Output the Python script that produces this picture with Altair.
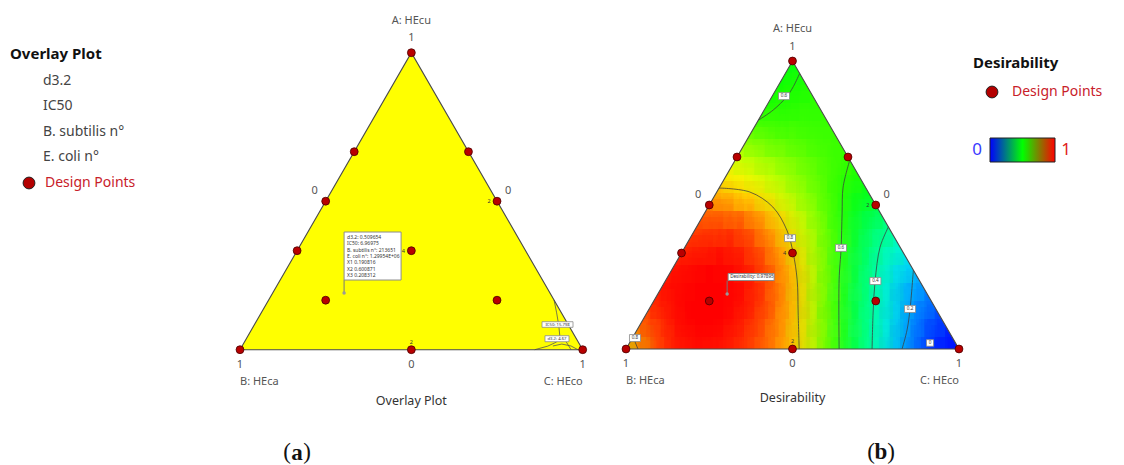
import altair as alt
import pandas as pd

FONT = "Noto Sans"
H = 465

# ---------------- data ----------------
# Mixture design runs: fractions of A (HEcu) and C (HEco); B (HEca) = 1 - A - C
design_A = [1, 2/3, 1/2, 1/3, 2/3, 1/2, 1/3, 1/6, 1/6, 0, 0, 0]
design_C = [0, 0, 0, 0, 1/3, 1/2, 1/3, 1/6, 2/3, 0, 1/2, 1]

# replicated runs (count shown next to the run)
rep_side_count = ["2", "4"]
rep_side_A = [1/2, 1/3]
rep_side_C = [1/2, 1/3]
rep_base_count = ["2"]
rep_base_A = [0]
rep_base_C = [1/2]

# flagged optimum
flag_X1, flag_X2, flag_X3 = 0.190816, 0.600871, 0.208312
overlay_names = ["d3.2", "IC50", "B. subtilis n°", "E. coli n°"]
overlay_values = ["0.509654", "6.96975", "213651", "1.29954E+06"]
flag_desirability = "0.97895"

# overlay plot: region outside the criteria near the C vertex (height a, left boundary x)
grey_a = [0.0, 0.012, 0.026, 0.049, 0.083, 0.124, 0.167]
grey_x_left = [0.860, 0.898, 0.924, 0.933, 0.930, 0.924, 0.9165]
# criteria lines inside that region
d32_x = [0.913, 0.939, 0.966, 0.986]
d32_a = [0.0125, 0.019, 0.0125, 0.0]
ic50_x = [0.9396, 0.954, 0.966]
ic50_a = [0.046, 0.0226, 0.0]
ov_label_text = ["IC50: 15.798", "d3.2: 4.67"]
ov_label_x = [0.9265, 0.925]
ov_label_a = [0.0848, 0.037]

# desirability on a triangular lattice (16 divisions), rows from B-C edge up to A
N = 16
desir_rows = [
    [0.70, 0.86, 0.92, 0.94, 0.94, 0.93, 0.91, 0.87, 0.82, 0.73, 0.63, 0.50, 0.38, 0.24, 0.13, 0.05, 0.01],
    [0.83, 0.92, 0.95, 0.96, 0.96, 0.94, 0.90, 0.85, 0.78, 0.68, 0.57, 0.45, 0.32, 0.20, 0.10, 0.04],
    [0.88, 0.94, 0.97, 0.97, 0.96, 0.93, 0.89, 0.82, 0.73, 0.63, 0.51, 0.38, 0.27, 0.16, 0.08],
    [0.93, 0.96, 0.975, 0.98, 0.97, 0.93, 0.87, 0.78, 0.68, 0.57, 0.45, 0.34, 0.22, 0.14],
    [0.94, 0.97, 0.975, 0.97, 0.95, 0.90, 0.82, 0.73, 0.63, 0.51, 0.40, 0.28, 0.18],
    [0.93, 0.96, 0.96, 0.95, 0.92, 0.86, 0.77, 0.68, 0.58, 0.47, 0.36, 0.26],
    [0.91, 0.94, 0.94, 0.92, 0.87, 0.79, 0.71, 0.63, 0.53, 0.43, 0.34],
    [0.89, 0.92, 0.91, 0.87, 0.80, 0.73, 0.67, 0.59, 0.50, 0.41],
    [0.86, 0.87, 0.85, 0.80, 0.74, 0.68, 0.62, 0.55, 0.48],
    [0.80, 0.79, 0.76, 0.72, 0.68, 0.64, 0.60, 0.55],
    [0.76, 0.74, 0.71, 0.68, 0.65, 0.62, 0.59],
    [0.71, 0.69, 0.67, 0.65, 0.63, 0.61],
    [0.65, 0.64, 0.63, 0.62, 0.61],
    [0.60, 0.61, 0.61, 0.61],
    [0.58, 0.60, 0.605],
    [0.565, 0.60],
    [0.55],
]

# desirability contour lines (x along B-C, a = height toward A)
contours = {
    "c08a": ([0.2795, 0.372, 0.441, 0.483, 0.502, 0.514, 0.517, 0.520],
             [0.559, 0.545, 0.493, 0.413, 0.333, 0.240, 0.125, 0.0]),
    "c08b": ([0.021, 0.036], [0.042, 0.0]),
    "c06a": ([0.672, 0.652, 0.649, 0.646, 0.640, 0.640],
             [0.656, 0.5625, 0.472, 0.351, 0.24, 0.0]),
    "c06b": ([0.5215, 0.5024, 0.4826, 0.4423, 0.397],
             [0.957, 0.911, 0.876, 0.83, 0.794]),
    "c04": ([0.788, 0.763, 0.748, 0.742, 0.739], [0.424, 0.354, 0.236, 0.125, 0.0]),
    "c02": ([0.863, 0.853, 0.844, 0.829], [0.274, 0.139, 0.066, 0.0]),
}
des_label_text = ["0.8", "0.6", "0.4", "0.2", "0.8", "0.6"]
des_label_x = [0.4925, 0.6456, 0.749, 0.853, 0.027, 0.4745]
des_label_a = [0.385, 0.351, 0.236, 0.139, 0.038, 0.878]
zero_label_x = [0.913]
zero_label_a = [0.021]

# colour ramp of the desirability map
ramp_stops = [0.02, 0.30, 0.57, 0.76, 0.96]
ramp_colors = ["#0000ff", "#00ffff", "#00ff00", "#ffff00", "#ff0000"]

# ---------------- helpers ----------------
PA = {"xdom": [-40 / 342.7, 380 / 342.7], "ydom": [(349.7 - H) / 297.0, 349.7 / 297.0], "w": 420}
PB = {"xdom": [-6 / 333.0, 339 / 333.0], "ydom": [(349.0 - H) / 288.0, 349.0 / 288.0], "w": 345}


def X(p, f="x"):
    return alt.X(f"{f}:Q", scale=alt.Scale(domain=p["xdom"], nice=False, zero=False), axis=None)


def Y(p, f="y"):
    return alt.Y(f"{f}:Q", scale=alt.Scale(domain=p["ydom"], nice=False, zero=False), axis=None)


def tern_x(A, C):
    return C + A / 2.0


def txt(p, x, y, s, dx=0, dy=0, size=11, color="#555555", align="left", weight="normal",
        font=FONT):
    return alt.Chart(pd.DataFrame({"x": [x], "y": [y], "t": [s]})).mark_text(
        dx=dx, dy=dy, fontSize=size, color=color, align=align, baseline="middle",
        font=font, fontWeight=weight
    ).encode(X(p), Y(p), text="t:N")


def ctxt(p, x, y, s, **kw):
    kw.setdefault("align", "center")
    return txt(p, x, y, s, **kw)


def rect_path(w, h):
    return f"M{-w/2},{-h/2}L{w/2},{-h/2}L{w/2},{h/2}L{-w/2},{h/2}Z"


def label_box(p, xs, ys, texts, w, h, size=4.6):
    df = pd.DataFrame({"x": xs, "y": ys, "t": texts})
    box = alt.Chart(df).mark_point(
        shape=rect_path(w, h), size=4, filled=True, fill="white", stroke="#8a8a8a",
        strokeWidth=0.8, opacity=1, fillOpacity=1, strokeOpacity=1
    ).encode(X(p), Y(p))
    t = alt.Chart(df).mark_text(fontSize=size, font=FONT, color="#333333", align="center",
                                baseline="middle").encode(X(p), Y(p), text="t:N")
    return [box, t]


frame_df = pd.DataFrame({"x": [0, 0.5, 1, 0], "y": [0, 1, 0, 0], "o": [0, 1, 2, 3]})
design_df = pd.DataFrame({"x": [tern_x(a, c) for a, c in zip(design_A, design_C)], "y": design_A})


def frame(p):
    return alt.Chart(frame_df).mark_line(color="#4a4a4a", strokeWidth=1.1).encode(
        X(p), Y(p), order="o:Q")


def design_points(p):
    pts = alt.Chart(design_df).mark_circle(
        size=62, color="#b80000", opacity=1, stroke="#4a0000", strokeWidth=0.8
    ).encode(X(p), Y(p))
    side = alt.Chart(pd.DataFrame({
        "x": [tern_x(a, c) for a, c in zip(rep_side_A, rep_side_C)], "y": rep_side_A,
        "t": rep_side_count})).mark_text(dx=-8, fontSize=5.5, font=FONT, color="#333").encode(
        X(p), Y(p), text="t:N")
    base = alt.Chart(pd.DataFrame({
        "x": [tern_x(a, c) for a, c in zip(rep_base_A, rep_base_C)], "y": rep_base_A,
        "t": rep_base_count})).mark_text(dy=-8, fontSize=5.5, font=FONT, color="#333").encode(
        X(p), Y(p), text="t:N")
    return [pts, side, base]


def axis_labels(p, d_top1, d_top2, d_base1, d_base2, title, d_title, letter, letter_x):
    out = [
        ctxt(p, 0.5, 1, "A: HEcu", dy=d_top2),
        ctxt(p, 0.5, 1, "1", dy=d_top1),
        ctxt(p, 0, 0, "1", dy=d_base1),
        ctxt(p, 0.5, 0, "0", dy=d_base1),
        ctxt(p, 1, 0, "1", dy=d_base1),
        txt(p, 0, 0, "B: HEca", dy=d_base2, align="left"),
        txt(p, 1, 0, "C: HEco", dy=d_base2, align="right"),
        ctxt(p, 0.25, 0.5, "0", dx=-11, dy=-10),
        ctxt(p, 0.75, 0.5, "0", dx=11, dy=-10),
        ctxt(p, 0.5, 0, title, dy=d_title, size=12.5, color="#333333"),
    ]
    serif = "Liberation Serif"
    out += [
        ctxt(p, letter_x, 0, "(", dx=-10, dy=102.5, size=23, color="#111", font=serif),
        ctxt(p, letter_x, 0, letter, dx=0, dy=103, size=23, color="#111", font=serif,
             weight="bold"),
        ctxt(p, letter_x, 0, ")", dx=10, dy=102.5, size=23, color="#111", font=serif),
    ]
    return out


fx = tern_x(flag_X1, flag_X3)
fa = flag_X1
flag_df = pd.DataFrame({"x": [fx], "y": [fa]})

# ---------------- panel (a): overlay plot ----------------
tri_fill = pd.DataFrame({"x": [0, 0.5, 1], "y": [0, 1, 0], "y0": [0, 0, 0]})
grey_df = pd.DataFrame({"a": grey_a, "xl": grey_x_left, "xr": [1 - a / 2 for a in grey_a],
                        "o": list(range(len(grey_a)))})
ov_lines = pd.concat([
    pd.DataFrame({"x": grey_x_left, "y": grey_a, "id": "edge", "o": range(len(grey_a))}),
    pd.DataFrame({"x": d32_x, "y": d32_a, "id": "d32", "o": range(len(d32_x))}),
    pd.DataFrame({"x": ic50_x, "y": ic50_a, "id": "ic50", "o": range(len(ic50_x))}),
])

flag_lines = [f"{n}:    {v}" for n, v in zip(overlay_names, overlay_values)]
flag_lines += [f"X1    {flag_X1:.6f}", f"X2    {flag_X2:.6f}", f"X3    {flag_X3:.6f}"]

a_layers = [
    alt.Chart(tri_fill).mark_area(color="#ffff00", opacity=1).encode(X(PA), Y(PA), y2="y0:Q"),
    alt.Chart(grey_df).mark_area(orient="horizontal", color="#d9d9d9", opacity=1).encode(
        x=X(PA, "xl"), x2="xr:Q", y=Y(PA, "a"), order="o:Q"),
    alt.Chart(ov_lines).mark_line(color="#555555", strokeWidth=0.8).encode(
        X(PA), Y(PA), detail="id:N", order="o:Q"),
    frame(PA),
]
a_layers += label_box(PA, ov_label_x[:1], ov_label_a[:1], ov_label_text[:1], 31, 5.6, size=4.2)
a_layers += label_box(PA, ov_label_x[1:], ov_label_a[1:], ov_label_text[1:], 24, 6, size=4.2)
a_layers += design_points(PA)
a_layers += [
    alt.Chart(flag_df).mark_point(shape="M0,-13L0,0", size=4, filled=False, stroke="#777777",
                                  strokeWidth=1, opacity=1).encode(X(PA), Y(PA)),
    alt.Chart(flag_df).mark_point(shape="M0,-61L57,-61L57,-13L0,-13Z", size=4, filled=True,
                                  fill="white", stroke="#8c8c8c", strokeWidth=1, opacity=1,
                                  fillOpacity=1).encode(X(PA), Y(PA)),
    alt.Chart(flag_df).mark_circle(size=12, color="#999999", opacity=1).encode(X(PA), Y(PA)),
]
for i, line in enumerate(flag_lines):
    a_layers.append(txt(PA, fx, fa, line, dx=3, dy=-56.3 + 6.4 * i, size=5, color="#333333"))
a_layers += axis_labels(PA, -14.7, -31.7, 15, 32, "Overlay Plot", 51, "a", (297 - 240) / 342.7)

panel_a = alt.layer(*a_layers).properties(width=PA["w"], height=H)

# ---------------- panel (b): desirability ----------------
assert all(len(r) == N - i + 1 for i, r in enumerate(desir_rows))


def lattice_cells(grow):
    half = grow * 0.5 / N + 0.002
    out = []
    for r, row in enumerate(desir_rows):
        a = r / N
        for k, v in enumerate(row):
            x = a / 2 + k / N
            out.append({"x": x - half, "x2": x + half, "y": a - half, "y2": a + half, "d": v})
    return pd.DataFrame(out)


def cell_layer(df, opacity):
    return alt.Chart(df).mark_rect(strokeWidth=0, opacity=opacity).encode(
        x=X(PB), x2="x2:Q", y=Y(PB), y2="y2:Q",
        color=alt.Color("d:Q", scale=alt.Scale(domain=ramp_stops, range=ramp_colors,
                                               clamp=True, interpolate="rgb"), legend=None))


# white masks outside the triangle (cells overhang its edges)
mask_top = pd.DataFrame({"x": [-0.09, 0, 0.5, 1, 1.09], "y": [0, 0, 1, 0, 0],
                         "y2": [1.12] * 5})
mask_bot = pd.DataFrame({"x": [-0.09, 1.09], "y": [0, 0], "y2": [-0.1, -0.1]})

cont_df = pd.concat([
    pd.DataFrame({"x": xs, "y": ys, "id": k, "o": range(len(xs))})
    for k, (xs, ys) in contours.items()
])

b_layers = [
    cell_layer(lattice_cells(1.0), 1.0),
    # wider translucent copies of the same cells soften the steps between neighbours
    cell_layer(lattice_cells(1.8), 0.35),
    cell_layer(lattice_cells(2.6), 0.2),
    alt.Chart(mask_top).mark_area(color="white", opacity=1).encode(X(PB), Y(PB), y2="y2:Q"),
    alt.Chart(mask_bot).mark_area(color="white", opacity=1).encode(X(PB), Y(PB), y2="y2:Q"),
    alt.Chart(cont_df).mark_line(color="#3c3c3c", strokeWidth=0.9, interpolate="catmull-rom",
                                 opacity=0.85).encode(
        X(PB), Y(PB), detail="id:N", order="o:Q"),
    frame(PB),
]
b_layers += label_box(PB, des_label_x, des_label_a, des_label_text, 11, 7)
b_layers += label_box(PB, zero_label_x, zero_label_a, ["0"], 7, 6.5)
b_layers += design_points(PB)
b_layers += [
    alt.Chart(flag_df).mark_point(shape="M0,-13.5L0,0", size=4, filled=False, stroke="#777777",
                                  strokeWidth=1, opacity=1).encode(X(PB), Y(PB)),
    alt.Chart(flag_df).mark_point(shape="M1,-20.5L47,-20.5L47,-13.5L1,-13.5Z", size=4,
                                  filled=True, fill="white", stroke="#8c8c8c", strokeWidth=1,
                                  opacity=1, fillOpacity=1).encode(X(PB), Y(PB)),
    alt.Chart(flag_df).mark_circle(size=12, color="#999999", opacity=1).encode(X(PB), Y(PB)),
    txt(PB, fx, fa, f"Desirability: {flag_desirability}", dx=3, dy=-17, size=4.6,
        color="#333333"),
]
b_layers += axis_labels(PB, -14, -32, 15, 32, "Desirability", 49, "b", (881 - 626) / 333.0)

panel_b = alt.layer(*b_layers).properties(width=PB["w"], height=H)

# ---------------- legends ----------------
one = pd.DataFrame({"k": [0]})
RED_TXT = "#c8202a"


def ltxt(s, x, y, size=14, color="#444444", weight="normal"):
    return alt.Chart(one).mark_text(text=s, fontSize=size, font=FONT, color=color,
                                    fontWeight=weight, align="left",
                                    baseline="middle").encode(x=alt.value(x), y=alt.value(y))


def ldot(x, y):
    return alt.Chart(one).mark_circle(size=140, color="#b30000", stroke="#222222",
                                      strokeWidth=1, opacity=1).encode(
        x=alt.value(x), y=alt.value(y))


left_layers = [ltxt("Overlay Plot", 10, 54, size=15, color="#111111", weight="bold")]
for i, n in enumerate(overlay_names):
    left_layers.append(ltxt(n, 43, 81 + 25.4 * i))
left_layers += [ldot(29, 183), ltxt("Design Points", 45, 183, color=RED_TXT)]
legend_left = alt.layer(*left_layers).properties(width=200, height=H)

colorbar = alt.Chart(one).mark_rect(
    fill=alt.LinearGradient(
        gradient="linear",
        stops=[alt.GradientStop(color="#0000ff", offset=0),
               alt.GradientStop(color="#00ff00", offset=0.5),
               alt.GradientStop(color="#ff0000", offset=1)],
        x1=0, x2=1, y1=0, y2=0),
    stroke="#222222", strokeWidth=1
).encode(x=alt.value(25), x2=alt.value(90), y=alt.value(138), y2=alt.value(162))

right_layers = [
    ltxt("Desirability", 8, 63, size=15, color="#111111", weight="bold"),
    ldot(27, 92),
    ltxt("Design Points", 47, 92, color=RED_TXT),
    colorbar,
    alt.Chart(one).mark_text(text="0", fontSize=17, font=FONT, color="#3a3aff",
                             align="center", baseline="middle").encode(
        x=alt.value(12), y=alt.value(150)),
    alt.Chart(one).mark_text(text="1", fontSize=17, font=FONT, color="#e02020",
                             align="center", baseline="middle").encode(
        x=alt.value(101), y=alt.value(150)),
]
legend_right = alt.layer(*right_layers).properties(width=159, height=H)

chart = alt.hconcat(
    legend_left, panel_a, panel_b, legend_right, spacing=0, bounds="flush"
).resolve_scale(x="independent", y="independent", color="independent").properties(
    padding=0
).configure_view(stroke=None)

chart.save("out.html", embed_options={"renderer": "svg", "actions": False})
